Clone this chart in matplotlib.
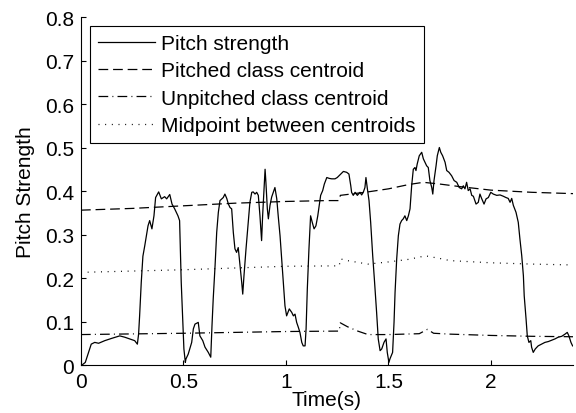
import numpy as np
import matplotlib
matplotlib.use('Agg')
import matplotlib.pyplot as plt

plt.rcParams['font.family'] = ['Liberation Sans', 'DejaVu Sans']
plt.rcParams['lines.scale_dashes'] = False

# pitch strength curve
t = [0.005, 0.021, 0.050, 0.067, 0.086, 0.116, 0.148, 0.189, 0.213, 0.238,
     0.262, 0.275, 0.281, 0.286, 0.294, 0.302, 0.311, 0.319, 0.327, 0.335,
     0.346, 0.356, 0.364, 0.379, 0.392, 0.408, 0.418, 0.433, 0.444, 0.457,
     0.473, 0.481, 0.489, 0.502, 0.509, 0.512, 0.523, 0.540, 0.548, 0.556,
     0.572, 0.580, 0.594, 0.605, 0.621, 0.633, 0.639, 0.645, 0.654, 0.662,
     0.670, 0.678, 0.694, 0.702, 0.711, 0.719, 0.727, 0.735, 0.743, 0.751,
     0.759, 0.767, 0.776, 0.784, 0.789, 0.795, 0.805, 0.816, 0.824, 0.833,
     0.840, 0.849, 0.857, 0.865, 0.873, 0.881, 0.886, 0.893, 0.898, 0.902,
     0.909, 0.914, 0.922, 0.930, 0.938, 0.946, 0.955, 0.962, 0.971, 0.979,
     0.987, 0.995, 1.003, 1.016, 1.028, 1.036, 1.044, 1.052, 1.060, 1.068,
     1.077, 1.084, 1.093, 1.098, 1.104, 1.112, 1.120, 1.128, 1.137, 1.146,
     1.155, 1.162, 1.169, 1.179, 1.187, 1.199, 1.211, 1.223, 1.239, 1.250,
     1.263, 1.280, 1.296, 1.307, 1.316, 1.320, 1.328, 1.337, 1.348, 1.361,
     1.369, 1.377, 1.385, 1.390, 1.397, 1.405, 1.413, 1.423, 1.431, 1.442,
     1.450, 1.459, 1.467, 1.478, 1.488, 1.494, 1.502, 1.507, 1.520, 1.527,
     1.532, 1.540, 1.548, 1.556, 1.564, 1.572, 1.580, 1.589, 1.597, 1.605,
     1.613, 1.621, 1.629, 1.634, 1.640, 1.650, 1.662, 1.670, 1.678, 1.686,
     1.694, 1.702, 1.711, 1.716, 1.722, 1.732, 1.738, 1.748, 1.755, 1.764,
     1.776, 1.784, 1.795, 1.808, 1.820, 1.833, 1.845, 1.857, 1.865, 1.873,
     1.881, 1.889, 1.898, 1.906, 1.914, 1.927, 1.938, 1.946, 1.955, 1.966,
     1.976, 1.987, 1.999, 2.011, 2.028, 2.044, 2.060, 2.073, 2.084, 2.093,
     2.101, 2.109, 2.122, 2.133, 2.141, 2.150, 2.158, 2.162, 2.171, 2.177,
     2.185, 2.194, 2.198, 2.206, 2.216, 2.230, 2.247, 2.263, 2.280, 2.296,
     2.312, 2.328, 2.345, 2.361, 2.372, 2.380, 2.390, 2.398]
strength = [0.000, 0.006, 0.048, 0.052, 0.050, 0.056, 0.061, 0.067, 0.064, 0.060,
            0.056, 0.048, 0.071, 0.113, 0.190, 0.250, 0.274, 0.297, 0.320, 0.332,
            0.313, 0.343, 0.385, 0.398, 0.382, 0.387, 0.382, 0.392, 0.370, 0.359,
            0.343, 0.332, 0.190, 0.037, 0.006, 0.014, 0.025, 0.052, 0.083, 0.094,
            0.098, 0.067, 0.056, 0.041, 0.029, 0.018, 0.090, 0.152, 0.228, 0.305,
            0.351, 0.378, 0.385, 0.393, 0.383, 0.370, 0.362, 0.359, 0.305, 0.267,
            0.259, 0.270, 0.228, 0.190, 0.163, 0.205, 0.267, 0.328, 0.374, 0.397,
            0.398, 0.393, 0.397, 0.390, 0.343, 0.286, 0.343, 0.405, 0.450, 0.420,
            0.359, 0.336, 0.367, 0.386, 0.397, 0.408, 0.382, 0.343, 0.297, 0.244,
            0.190, 0.136, 0.113, 0.129, 0.121, 0.113, 0.117, 0.098, 0.087, 0.075,
            0.052, 0.044, 0.044, 0.083, 0.175, 0.267, 0.343, 0.328, 0.313, 0.320,
            0.343, 0.367, 0.390, 0.401, 0.416, 0.431, 0.429, 0.428, 0.428, 0.431,
            0.437, 0.445, 0.443, 0.439, 0.412, 0.397, 0.390, 0.397, 0.390, 0.397,
            0.391, 0.397, 0.408, 0.431, 0.405, 0.378, 0.328, 0.251, 0.198, 0.121,
            0.060, 0.033, 0.037, 0.052, 0.060, 0.029, 0.006, 0.014, 0.029, 0.098,
            0.167, 0.244, 0.297, 0.324, 0.332, 0.336, 0.343, 0.332, 0.343, 0.359,
            0.412, 0.450, 0.454, 0.447, 0.462, 0.481, 0.489, 0.474, 0.466, 0.458,
            0.454, 0.424, 0.408, 0.393, 0.424, 0.458, 0.481, 0.500, 0.489, 0.481,
            0.466, 0.447, 0.443, 0.435, 0.424, 0.420, 0.408, 0.405, 0.412, 0.405,
            0.420, 0.401, 0.405, 0.390, 0.388, 0.370, 0.374, 0.393, 0.382, 0.370,
            0.382, 0.385, 0.397, 0.393, 0.390, 0.391, 0.388, 0.385, 0.383, 0.374,
            0.383, 0.367, 0.351, 0.328, 0.290, 0.251, 0.205, 0.159, 0.106, 0.067,
            0.052, 0.056, 0.041, 0.029, 0.037, 0.044, 0.048, 0.052, 0.054, 0.057,
            0.060, 0.064, 0.066, 0.071, 0.075, 0.067, 0.052, 0.044]

# class centroids
t_pitched = [0.0, 0.25, 0.5, 0.75, 1.0, 1.2, 1.26, 1.265, 1.4, 1.5, 1.6,
             1.67, 1.75, 1.85, 2.0, 2.2, 2.4]
pitched = [0.356, 0.360, 0.366, 0.372, 0.376, 0.378, 0.378, 0.390, 0.398,
           0.405, 0.415, 0.420, 0.416, 0.410, 0.402, 0.397, 0.394]

t_unpitched = [0.0, 0.5, 1.0, 1.26, 1.265, 1.3, 1.35, 1.4, 1.5, 1.65, 1.69,
               1.72, 1.8, 2.0, 2.2, 2.4]
unpitched = [0.070, 0.073, 0.077, 0.078, 0.097, 0.088, 0.078, 0.070, 0.070,
             0.072, 0.082, 0.073, 0.071, 0.068, 0.066, 0.065]

t_mid = [0.0, 0.5, 1.0, 1.26, 1.265, 1.3, 1.35, 1.4, 1.5, 1.6, 1.68, 1.75,
         1.8, 2.0, 2.2, 2.4]
midpoint = [0.213, 0.219, 0.227, 0.228, 0.244, 0.240, 0.236, 0.232, 0.237,
            0.243, 0.251, 0.245, 0.240, 0.235, 0.232, 0.230]

fig = plt.figure(figsize=(5.76, 4.14), dpi=100)
ax = fig.add_axes([0.1406, 0.1159, 0.8542, 0.8406])

lw = 0.9
ax.plot(t, strength, color='k', lw=lw, label='Pitch strength')
ax.plot(t_pitched, pitched, color='k', lw=lw, dashes=(7, 3.5),
        label='Pitched class centroid')
ax.plot(t_unpitched, unpitched, color='k', lw=lw, dashes=(7, 3, 0.7, 3),
        label='Unpitched class centroid')
ax.plot(t_mid, midpoint, color='k', lw=lw, dashes=(0.7, 4.1),
        label='Midpoint between centroids')

fs = 15
ax.set_xlim(0, 2.4)
ax.set_ylim(0, 0.8)
ax.set_xticks([0, 0.5, 1, 1.5, 2])
ax.set_xticklabels(['0', '0.5', '1', '1.5', '2'])
ax.set_yticks(np.arange(0, 0.81, 0.1))
ax.set_yticklabels(['0', '0.1', '0.2', '0.3', '0.4', '0.5', '0.6', '0.7', '0.8'])
ax.tick_params(direction='in', length=3.5, width=0.8, labelsize=fs, pad=5)

for side in ['top', 'right']:
    ax.spines[side].set_visible(False)
for side in ['left', 'bottom']:
    ax.spines[side].set_linewidth(0.8)

ax.set_xlabel('Time(s)', fontsize=fs, labelpad=-1)
ax.set_ylabel('Pitch Strength', fontsize=fs, labelpad=7)

leg = ax.legend(loc='upper left', bbox_to_anchor=(0.018, 0.975),
                borderaxespad=0, fontsize=fs, handlelength=2.75,
                handletextpad=0.25, labelspacing=0.4, borderpad=0.4,
                fancybox=False, framealpha=1, edgecolor='k')
leg.get_frame().set_linewidth(0.8)

fig.savefig('out.png', dpi=100)
